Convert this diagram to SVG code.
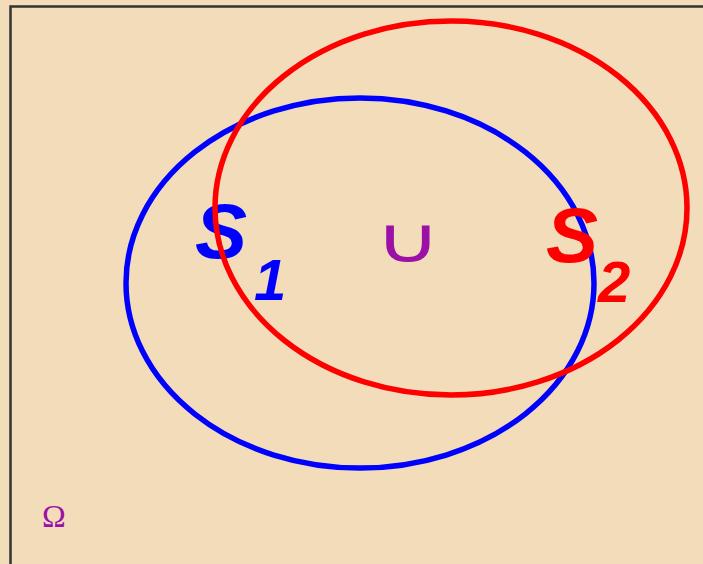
<svg xmlns="http://www.w3.org/2000/svg" width="703" height="564" viewBox="0 0 703 564">
<style>
.set{fill:none;stroke-width:5.5}
.lbl{font-family:"Liberation Sans",Arial,sans-serif;font-weight:bold;font-style:italic}
.sym{fill:#9C10A8}
</style>
<rect x="0" y="0" width="703" height="564" fill="#F3DCBA"/>
<path d="M10.5 564 V6.5 H703" fill="none" stroke="#333" stroke-width="2.5"/>
<g id="connectors"></g>
<g id="S1">
<ellipse class="set" cx="360" cy="283" rx="234" ry="185" stroke="#0000FF"/>
<text class="lbl" x="195" y="258" font-size="78" fill="#0000FF">S</text>
<text class="lbl" x="254" y="300" font-size="58" fill="#0000FF">1</text>
</g>
<g id="S2">
<ellipse class="set" cx="451" cy="208" rx="236" ry="187" stroke="#FF0000" stroke-width="6"/>
<text class="lbl" x="546" y="262" font-size="78" fill="#FF0000">S</text>
<text class="lbl" x="598" y="302" font-size="58" fill="#FF0000">2</text>
</g>
<g id="union">
<text class="sym" x="0" y="262" font-size="63" text-anchor="middle" font-family="DejaVu Sans,sans-serif" transform="translate(408 0) scale(1.45 1)">∪</text>
</g>
<g id="omega">
<text class="sym" x="54" y="527" font-size="32" text-anchor="middle" font-family="Liberation Serif,serif">Ω</text>
</g>
</svg>
